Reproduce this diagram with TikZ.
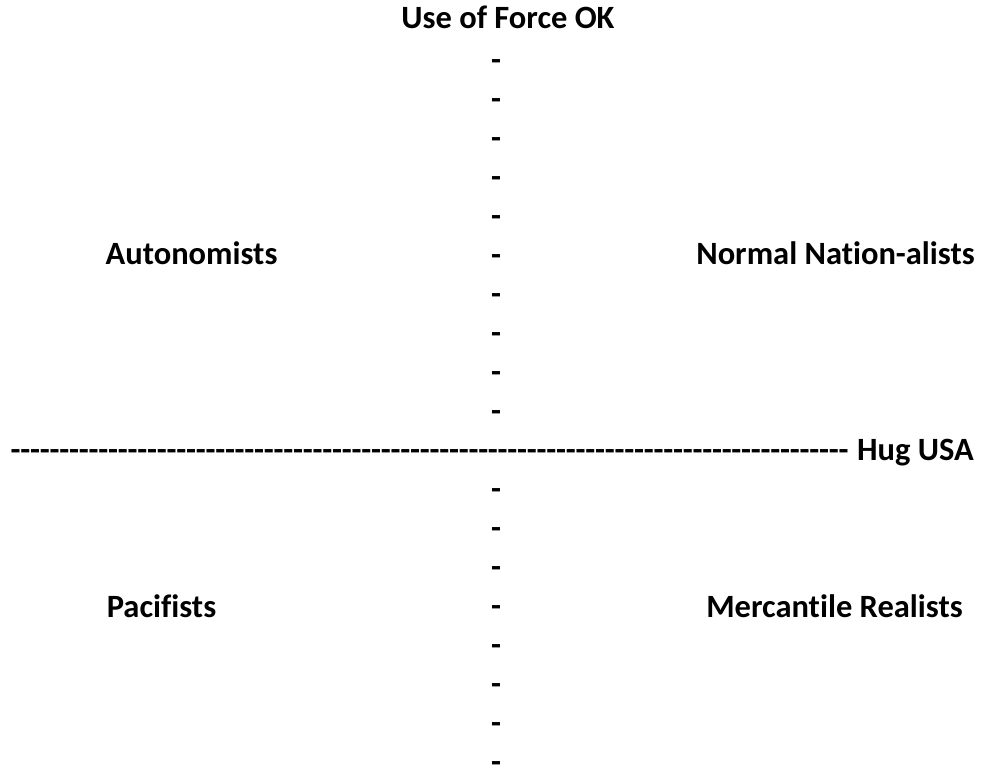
\documentclass[tikz,border=0pt]{standalone}
\usepackage{fontspec}
\setmainfont{Carlito}[Ligatures=CommonOff]
\usepackage{tikz}
\usetikzlibrary{positioning}

\tikzset{
  lbl/.style={inner sep=0pt, anchor=base, font=\fontsize{32.5}{39}\selectfont\bfseries},
  dsh/.style={lbl}
}

\begin{document}
\begin{tikzpicture}[x=1pt, y=-1pt]
  \useasboundingbox (0,0) rectangle (981,771);
  \node[lbl] (force) at (508,28) {Use of Force OK};
  % vertical axis
  \foreach \k in {0,...,9,11,12,...,18}
    \node[dsh] (v\k) at (496,70.3+39*\k) {-};
  % horizontal axis
  \foreach \i in {0,...,85}
    \node[dsh] (h\i) at (15.7+9.74*\i,460.3) {-};
  \node[lbl, anchor=base west] (hug) at (857,460.3) {Hug USA};
  % quadrants
  \node[lbl] (auto) at (191.5,264.3) {Autonomists};
  \node[lbl] (normal) at (835.5,264.3) {Normal Nation-alists};
  \node[lbl] (paci) at (161.5,617.3) {Pacifists};
  \node[lbl] (merc) at (834.5,617.3) {Mercantile Realists};
\end{tikzpicture}
\end{document}
